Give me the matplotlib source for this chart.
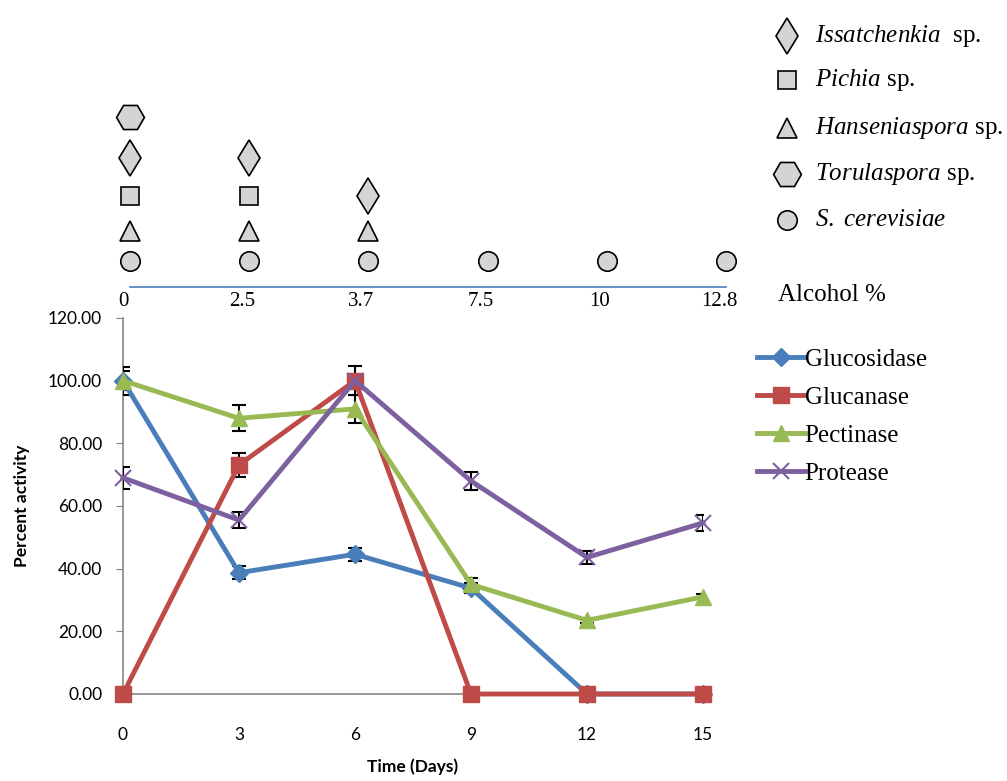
import matplotlib
matplotlib.use("Agg")
import matplotlib.pyplot as plt
import numpy as np

# enzyme activity data
days = [0, 3, 6, 9, 12, 15]
glucosidase = [100.0, 38.7, 44.6, 33.8, 0.0, 0.0]
glucosidase_err = [4.5, 2.0, 2.0, 1.5, 0.0, 0.0]
glucanase = [0.0, 73.1, 100.0, 0.0, 0.0, 0.0]
glucanase_err = [0.0, 3.7, 4.7, 0.0, 0.0, 0.0]
pectinase = [100.0, 88.0, 91.0, 35.0, 23.5, 31.0]
pectinase_err = [3.0, 4.2, 4.5, 2.0, 0.8, 0.8]
protease = [69.0, 55.5, 100.0, 68.0, 43.6, 54.6]
protease_err = [3.5, 2.5, 0.0, 3.0, 2.0, 2.5]

# yeast species present at each alcohol level (bottom to top)
alcohol = ["0", "2.5", "3.7", "7.5", "10", "12.8"]
species_present = [
    ["S. cerevisiae", "Hanseniaspora", "Pichia", "Issatchenkia", "Torulaspora"],
    ["S. cerevisiae", "Hanseniaspora", "Pichia", "Issatchenkia"],
    ["S. cerevisiae", "Hanseniaspora", "Issatchenkia"],
    ["S. cerevisiae"],
    ["S. cerevisiae"],
    ["S. cerevisiae"],
]
species_order = ["Issatchenkia", "Pichia", "Hanseniaspora", "Torulaspora", "S. cerevisiae"]
species_label = {
    "Issatchenkia": r"$\it{Issatchenkia}$  sp.",
    "Pichia": r"$\it{Pichia}$ sp.",
    "Hanseniaspora": r"$\it{Hanseniaspora}$ sp.",
    "Torulaspora": r"$\it{Torulaspora}$ sp.",
    "S. cerevisiae": r"$\it{S.\ cerevisiae}$",
}
species_marker = {"Issatchenkia": ("d", 18), "Pichia": ("s", 13), "Hanseniaspora": ("^", 15),
                  "Torulaspora": ("H", 20), "S. cerevisiae": ("o", 14)}

plt.rcParams["mathtext.fontset"] = "custom"
plt.rcParams["mathtext.it"] = "Liberation Serif:italic"
plt.rcParams["mathtext.rm"] = "Liberation Serif"

fig = plt.figure(figsize=(10.07, 7.81), dpi=100)
W, H = 1007, 781

ax = fig.add_axes([123 / W, 1 - 694 / H, 580 / W, 376 / H])
cols = ["#4a7ebb", "#be4b48", "#98b954", "#7d60a0"]
series = [("Glucosidase", glucosidase, glucosidase_err, "D", 9),
          ("Glucanase", glucanase, glucanase_err, "s", 11),
          ("Pectinase", pectinase, pectinase_err, "^", 12),
          ("Protease", protease, protease_err, "x", 12)]
for (name, vals, err, mk, ms), c in zip(series, cols):
    ax.errorbar(days, vals, yerr=err, fmt="none", ecolor="black", elinewidth=1.5,
                capsize=5, capthick=1.5, zorder=3)
for (name, vals, err, mk, ms), c in zip(series, cols):
    ax.plot(days, vals, color=c, lw=3.5, marker=mk, ms=ms, mec=c, mew=1.5 if mk == "x" else 1,
            label=name, zorder=4, clip_on=False)

ax.set_xlim(0, 15)
ax.set_ylim(0, 120)
ax.set_xticks(days)
ax.set_yticks(np.arange(0, 121, 20))
ax.set_yticklabels(["%.2f" % v for v in np.arange(0, 121, 20)])
for s in ["top", "right"]:
    ax.spines[s].set_visible(False)
for s in ["left", "bottom"]:
    ax.spines[s].set_color("#868686")
    ax.spines[s].set_linewidth(1.2)
ax.tick_params(axis="y", direction="out", length=5, color="#868686", labelsize=12.5, pad=10)
ax.tick_params(axis="x", length=0, labelsize=12.5, pad=24)
for lab in ax.get_xticklabels() + ax.get_yticklabels():
    lab.set_family("Lato")
ax.set_xlabel("Time (Days)", family="Lato", fontweight="bold", fontsize=12.5, labelpad=11)
ax.set_ylabel("Percent activity", family="Lato", fontweight="bold", fontsize=12.5, labelpad=13)

ax.legend(loc="upper left", bbox_to_anchor=(1.076, 0.945), frameon=False,
          prop={"family": "Liberation Serif", "size": 18}, handlelength=1.9,
          handletextpad=0.0, labelspacing=0.62, borderaxespad=0)

# top panel: species present at each alcohol level, drawn in figure pixels
top = fig.add_axes([0, 0, 1, 1], zorder=-1)
top.set_xlim(0, W)
top.set_ylim(H, 0)
top.axis("off")
stage_x = np.linspace(130, 726, len(alcohol))
slot_y = [261, 231, 196, 158, 117]
gray = "#d4d4d4"
for sx, present in zip(stage_x, species_present):
    for k, sp in enumerate(present):
        mk, ms = species_marker[sp]
        top.plot(sx, slot_y[k], marker=mk, ms=ms, mfc=gray, mec="black", mew=1.2)
top.plot([stage_x[0], stage_x[-1]], [287, 287], color="#4a7ebb", lw=1.2)
for sx, lab in zip(stage_x, alcohol):
    top.text(sx - 7, 302, lab, ha="center", va="center", family="Liberation Serif", fontsize=15)
top.text(778, 295, "Alcohol %", ha="left", va="center", family="Liberation Serif", fontsize=18)

legend_y = [36, 80, 128, 174, 220]
for yy, sp in zip(legend_y, species_order):
    mk, ms = species_marker[sp]
    top.plot(787, yy, marker=mk, ms=ms, mfc=gray, mec="black", mew=1.2)
    top.text(815, yy, species_label[sp], ha="left", va="center", family="Liberation Serif",
             fontsize=18)

fig.savefig("out.png", dpi=100)
